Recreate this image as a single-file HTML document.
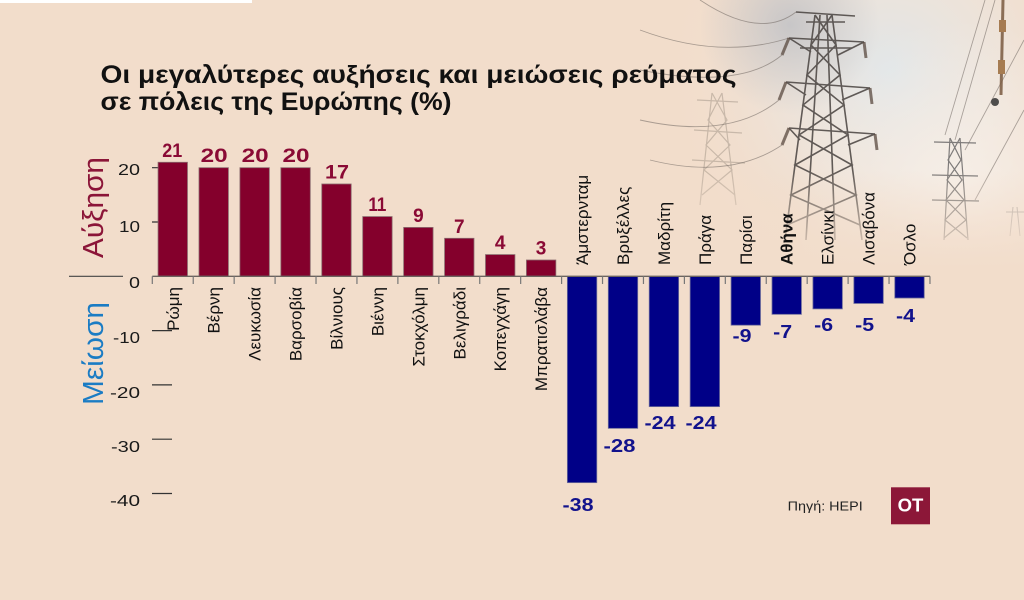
<!DOCTYPE html>
<html>
<head>
<meta charset="utf-8">
<style>
  html, body { margin:0; padding:0; background:#f2ddcb; }
  svg { display:block; }
  text { font-family: "Liberation Sans", "DejaVu Sans", sans-serif; }
</style>
</head>
<body>
<svg width="1024" height="600" viewBox="0 0 1024 600" xmlns="http://www.w3.org/2000/svg">
  <defs>
    <radialGradient id="sky" cx="890" cy="70" r="230" gradientUnits="userSpaceOnUse">
      <stop offset="0" stop-color="#dfe6ea" stop-opacity="0.95"/>
      <stop offset="0.5" stop-color="#ebe7e2" stop-opacity="0.55"/>
      <stop offset="1" stop-color="#f2ddcb" stop-opacity="0"/>
    </radialGradient>
    <radialGradient id="haze" cx="790" cy="25" r="90" gradientUnits="userSpaceOnUse">
      <stop offset="0" stop-color="#aeb3bc" stop-opacity="0.6"/>
      <stop offset="1" stop-color="#aeb3bc" stop-opacity="0"/>
    </radialGradient>
    <radialGradient id="light" cx="960" cy="190" r="170" gradientUnits="userSpaceOnUse">
      <stop offset="0" stop-color="#f8f2ec" stop-opacity="0.8"/>
      <stop offset="1" stop-color="#f8f2ec" stop-opacity="0"/>
    </radialGradient>
    <linearGradient id="fade" x1="0" y1="170" x2="0" y2="268" gradientUnits="userSpaceOnUse">
      <stop offset="0" stop-color="#f2ddcb" stop-opacity="0"/>
      <stop offset="1" stop-color="#f2ddcb" stop-opacity="1"/>
    </linearGradient>
  </defs>

  <!-- background -->
  <rect x="0" y="0" width="1024" height="600" fill="#f2ddcb"/>
  <rect x="0" y="0" width="252" height="3" fill="#ffffff"/>
  <rect x="600" y="0" width="424" height="320" fill="url(#sky)"/>
  <rect x="680" y="0" width="220" height="120" fill="url(#haze)"/>
  <rect x="760" y="0" width="264" height="400" fill="url(#light)"/>

  <!-- faint left tower -->
  <g stroke="#a89a8c" stroke-width="1.2" fill="none" opacity="0.55">
    <line x1="712" y1="93" x2="700" y2="205"/>
    <line x1="722" y1="93" x2="736" y2="205"/>
    <polyline points="712,93 727,120 706,145 732,170 702,195"/>
    <polyline points="722,93 708,120 730,145 704,170 735,195"/>
    <line x1="697" y1="100" x2="738" y2="102"/>
    <line x1="694" y1="130" x2="742" y2="133"/>
    <line x1="692" y1="160" x2="745" y2="163"/>
  </g>

  <!-- wires -->
  <g stroke="#6f6660" stroke-width="0.9" fill="none" opacity="0.55">
    <path d="M700,0 Q760,40 796,12"/>
    <path d="M640,30 Q720,60 789,38"/>
    <path d="M782,55 Q740,90 640,70"/>
    <path d="M779,100 Q730,140 640,120"/>
    <path d="M782,145 Q730,180 650,160"/>
    <path d="M985,0 L945,135"/>
    <path d="M995,0 L955,140"/>
    <path d="M1024,40 L965,150"/>
    <path d="M1024,110 L975,200"/>
  </g>

  <!-- main tower -->
  <g stroke="#4d4744" stroke-width="1.6" fill="none" opacity="0.88">
    <line x1="815" y1="15" x2="785" y2="240"/>
    <line x1="832" y1="15" x2="862" y2="240"/>
    <line x1="820" y1="15" x2="806" y2="240"/>
    <line x1="827" y1="15" x2="835" y2="240"/>
    <polyline points="815,15 836,45 807,75 844,105 799,135 852,165 791,195 860,225"/>
    <polyline points="832,15 811,45 840,75 803,105 848,135 795,165 856,195 787,225"/>
    <line x1="796" y1="12" x2="855" y2="16"/>
    <line x1="806" y1="22" x2="845" y2="22"/>
    <line x1="789" y1="38" x2="864" y2="42"/>
    <line x1="800" y1="48" x2="852" y2="48"/>
    <line x1="789" y1="38" x2="811" y2="52"/>
    <line x1="864" y1="42" x2="838" y2="55"/>
    <line x1="786" y1="82" x2="870" y2="88"/>
    <line x1="786" y1="82" x2="806" y2="95"/>
    <line x1="870" y1="88" x2="842" y2="100"/>
    <line x1="789" y1="128" x2="875" y2="134"/>
    <line x1="789" y1="128" x2="800" y2="140"/>
    <line x1="875" y1="134" x2="848" y2="145"/>
  </g>
  <g stroke="#5a4a40" stroke-width="3" opacity="0.75">
    <line x1="789" y1="38" x2="782" y2="55"/>
    <line x1="864" y1="42" x2="866" y2="58"/>
    <line x1="786" y1="82" x2="779" y2="100"/>
    <line x1="870" y1="88" x2="872" y2="104"/>
    <line x1="789" y1="128" x2="782" y2="145"/>
    <line x1="875" y1="134" x2="877" y2="150"/>
  </g>

  <!-- small right tower -->
  <g stroke="#6a6868" stroke-width="1.2" fill="none" opacity="0.85">
    <line x1="950" y1="138" x2="944" y2="240"/>
    <line x1="960" y1="138" x2="968" y2="240"/>
    <polyline points="950,138 961,160 947,180 964,200 945,220 967,238"/>
    <polyline points="960,138 948,160 962,180 946,200 966,220 944,238"/>
    <line x1="934" y1="142" x2="976" y2="143"/>
    <line x1="932" y1="175" x2="978" y2="176"/>
    <line x1="932" y1="200" x2="979" y2="201"/>
  </g>
  <g stroke="#7a7676" stroke-width="1" fill="none" opacity="0.5">
    <line x1="1013" y1="207" x2="1010" y2="236"/>
    <line x1="1017" y1="207" x2="1020" y2="236"/>
    <line x1="1006" y1="212" x2="1024" y2="212"/>
  </g>
  <!-- top-right insulator -->
  <g opacity="0.85">
    <line x1="1003" y1="0" x2="1001" y2="95" stroke="#7a5a40" stroke-width="3"/>
    <rect x="999" y="20" width="7" height="12" fill="#9a6a3a"/>
    <rect x="998" y="60" width="7" height="14" fill="#9a6a3a"/>
    <circle cx="995" cy="102" r="4" fill="#333"/>
  </g>

  <!-- fade photo into beige -->
  <rect x="600" y="170" width="424" height="260" fill="url(#fade)"/>

  <!-- title -->
  <text x="100.5" y="83" font-size="25" font-weight="bold" fill="#111" textLength="636" lengthAdjust="spacingAndGlyphs">Οι μεγαλύτερες αυξήσεις και μειώσεις ρεύματος</text>
  <text x="100.5" y="110" font-size="25" font-weight="bold" fill="#111" textLength="351" lengthAdjust="spacingAndGlyphs">σε πόλεις της Ευρώπης (%)</text>

  <!-- axis titles -->
  <text transform="translate(103,258) rotate(-90)" font-size="29" fill="#8b1538" textLength="101" lengthAdjust="spacingAndGlyphs">Αύξηση</text>
  <text transform="translate(103,405) rotate(-90)" font-size="29" fill="#1b7cc4" textLength="103" lengthAdjust="spacingAndGlyphs">Μείωση</text>
  <line x1="69" y1="276.3" x2="123" y2="276.3" stroke="#444" stroke-width="1.2"/>

  <!-- y tick labels -->
  <g font-size="16" fill="#1a1a1a" text-anchor="end">
    <text x="140" y="175" textLength="22" lengthAdjust="spacingAndGlyphs">20</text>
    <text x="140" y="232" textLength="21" lengthAdjust="spacingAndGlyphs">10</text>
    <text x="140" y="288" textLength="11" lengthAdjust="spacingAndGlyphs">0</text>
    <text x="140" y="343" textLength="27" lengthAdjust="spacingAndGlyphs">-10</text>
    <text x="140" y="398" textLength="30" lengthAdjust="spacingAndGlyphs">-20</text>
    <text x="140" y="452" textLength="29" lengthAdjust="spacingAndGlyphs">-30</text>
    <text x="140" y="506" textLength="30" lengthAdjust="spacingAndGlyphs">-40</text>
  </g>

  <!-- y ticks -->
  <g stroke="#333" stroke-width="1.2">
    <line x1="152" y1="167.7" x2="172" y2="167.7"/>
    <line x1="152" y1="222" x2="172" y2="222"/>
    <line x1="152" y1="330.6" x2="172" y2="330.6"/>
    <line x1="152" y1="384.9" x2="172" y2="384.9"/>
    <line x1="152" y1="439.2" x2="172" y2="439.2"/>
    <line x1="152" y1="493.5" x2="172" y2="493.5"/>
  </g>

  <!-- bars positive -->
  <g fill="#84002c" stroke="#8a6a6e" stroke-width="0.8">
    <rect x="158.07" y="162.27" width="29.4" height="114.03"/>
    <rect x="199.0" y="167.7" width="29.4" height="108.6"/>
    <rect x="239.93" y="167.7" width="29.4" height="108.6"/>
    <rect x="280.86" y="167.7" width="29.4" height="108.6"/>
    <rect x="321.79" y="183.99" width="29.4" height="92.31"/>
    <rect x="362.72" y="216.57" width="29.4" height="59.73"/>
    <rect x="403.65" y="227.43" width="29.4" height="48.87"/>
    <rect x="444.58" y="238.29" width="29.4" height="38.01"/>
    <rect x="485.51" y="254.58" width="29.4" height="21.72"/>
    <rect x="526.44" y="260.01" width="29.4" height="16.29"/>
  </g>
  <!-- bars negative -->
  <g fill="#000087" stroke="#6a6a9a" stroke-width="0.8">
    <rect x="567.37" y="276.3" width="29.4" height="206.34"/>
    <rect x="608.3" y="276.3" width="29.4" height="152.04"/>
    <rect x="649.23" y="276.3" width="29.4" height="130.32"/>
    <rect x="690.16" y="276.3" width="29.4" height="130.32"/>
    <rect x="731.09" y="276.3" width="29.4" height="48.87"/>
    <rect x="772.02" y="276.3" width="29.4" height="38.01"/>
    <rect x="812.95" y="276.3" width="29.4" height="32.58"/>
    <rect x="853.88" y="276.3" width="29.4" height="27.15"/>
    <rect x="894.81" y="276.3" width="29.4" height="21.72"/>
  </g>

  <!-- x axis -->
  <line x1="152.3" y1="276.3" x2="930" y2="276.3" stroke="#6b6460" stroke-width="1.4"/>
  <g stroke="#777" stroke-width="1.2">
    <line x1="152.3" y1="276.3" x2="152.3" y2="284"/>
    <line x1="193.23" y1="276.3" x2="193.23" y2="284"/>
    <line x1="234.16" y1="276.3" x2="234.16" y2="284"/>
    <line x1="275.09" y1="276.3" x2="275.09" y2="284"/>
    <line x1="316.02" y1="276.3" x2="316.02" y2="284"/>
    <line x1="356.95" y1="276.3" x2="356.95" y2="284"/>
    <line x1="397.88" y1="276.3" x2="397.88" y2="284"/>
    <line x1="438.81" y1="276.3" x2="438.81" y2="284"/>
    <line x1="479.74" y1="276.3" x2="479.74" y2="284"/>
    <line x1="520.67" y1="276.3" x2="520.67" y2="284"/>
    <line x1="561.6" y1="276.3" x2="561.6" y2="284"/>
    <line x1="602.53" y1="276.3" x2="602.53" y2="284"/>
    <line x1="643.46" y1="276.3" x2="643.46" y2="284"/>
    <line x1="684.39" y1="276.3" x2="684.39" y2="284"/>
    <line x1="725.32" y1="276.3" x2="725.32" y2="284"/>
    <line x1="766.25" y1="276.3" x2="766.25" y2="284"/>
    <line x1="807.18" y1="276.3" x2="807.18" y2="284"/>
    <line x1="848.11" y1="276.3" x2="848.11" y2="284"/>
    <line x1="889.04" y1="276.3" x2="889.04" y2="284"/>
    <line x1="929.97" y1="276.3" x2="929.97" y2="284"/>
  </g>

  <!-- category labels (positive, below axis) -->
  <g font-size="17" fill="#111" text-anchor="end">
    <text transform="translate(178.8,287) rotate(-90)">Ρώμη</text>
    <text transform="translate(219.7,287) rotate(-90)">Βέρνη</text>
    <text transform="translate(260.6,287) rotate(-90)">Λευκωσία</text>
    <text transform="translate(301.6,287) rotate(-90)">Βαρσοβία</text>
    <text transform="translate(342.5,287) rotate(-90)">Βίλνιους</text>
    <text transform="translate(383.4,287) rotate(-90)">Βιέννη</text>
    <text transform="translate(424.4,287) rotate(-90)">Στοκχόλμη</text>
    <text transform="translate(465.3,287) rotate(-90)">Βελιγράδι</text>
    <text transform="translate(506.2,287) rotate(-90)">Κοπεγχάγη</text>
    <text transform="translate(547.1,287) rotate(-90)">Μπρατισλάβα</text>
  </g>
  <!-- category labels (negative, above axis) -->
  <g font-size="17" fill="#111" text-anchor="start">
    <text transform="translate(588.1,265) rotate(-90)">Άμστερνταμ</text>
    <text transform="translate(629,265) rotate(-90)">Βρυξέλλες</text>
    <text transform="translate(669.9,265) rotate(-90)">Μαδρίτη</text>
    <text transform="translate(710.9,265) rotate(-90)">Πράγα</text>
    <text transform="translate(751.8,265) rotate(-90)">Παρίσι</text>
    <text transform="translate(792.7,265) rotate(-90)" font-weight="bold">Αθήνα</text>
    <text transform="translate(833.7,265) rotate(-90)">Ελσίνκι</text>
    <text transform="translate(874.6,265) rotate(-90)">Λισαβόνα</text>
    <text transform="translate(915.5,265) rotate(-90)">Όσλο</text>
  </g>

  <!-- value labels positive -->
  <g font-size="19" font-weight="bold" fill="#8a0a35" text-anchor="middle">
    <text x="172.3" y="156.8" textLength="20" lengthAdjust="spacingAndGlyphs">21</text>
    <text x="214.2" y="162.2" textLength="27" lengthAdjust="spacingAndGlyphs">20</text>
    <text x="255.1" y="162.2" textLength="27" lengthAdjust="spacingAndGlyphs">20</text>
    <text x="296" y="162.2" textLength="27" lengthAdjust="spacingAndGlyphs">20</text>
    <text x="337" y="178.5" textLength="24" lengthAdjust="spacingAndGlyphs">17</text>
    <text x="377.4" y="211" textLength="18" lengthAdjust="spacingAndGlyphs">11</text>
    <text x="418.4" y="222">9</text>
    <text x="459.3" y="232.8">7</text>
    <text x="500.2" y="249">4</text>
    <text x="541.1" y="254.5">3</text>
  </g>
  <!-- value labels negative -->
  <g font-size="18" font-weight="bold" fill="#12128c" text-anchor="middle">
    <text x="578" y="511" textLength="31" lengthAdjust="spacingAndGlyphs">-38</text>
    <text x="619.5" y="452" textLength="32" lengthAdjust="spacingAndGlyphs">-28</text>
    <text x="660" y="429" textLength="31" lengthAdjust="spacingAndGlyphs">-24</text>
    <text x="701" y="429" textLength="31" lengthAdjust="spacingAndGlyphs">-24</text>
    <text x="742" y="342" textLength="19" lengthAdjust="spacingAndGlyphs">-9</text>
    <text x="782.7" y="338" textLength="19" lengthAdjust="spacingAndGlyphs">-7</text>
    <text x="823.7" y="331" textLength="19" lengthAdjust="spacingAndGlyphs">-6</text>
    <text x="864.6" y="331" textLength="19" lengthAdjust="spacingAndGlyphs">-5</text>
    <text x="905.5" y="322" textLength="19" lengthAdjust="spacingAndGlyphs">-4</text>
  </g>

  <!-- source & logo -->
  <text x="787.7" y="510.5" font-size="13" fill="#222" textLength="75" lengthAdjust="spacingAndGlyphs">Πηγή: HEPI</text>
  <rect x="891" y="487.3" width="39" height="37" fill="#8c1738"/>
  <text x="910.5" y="511.7" font-size="18.5" font-weight="bold" fill="#ffffff" text-anchor="middle">OT</text>
</svg>
</body>
</html>
